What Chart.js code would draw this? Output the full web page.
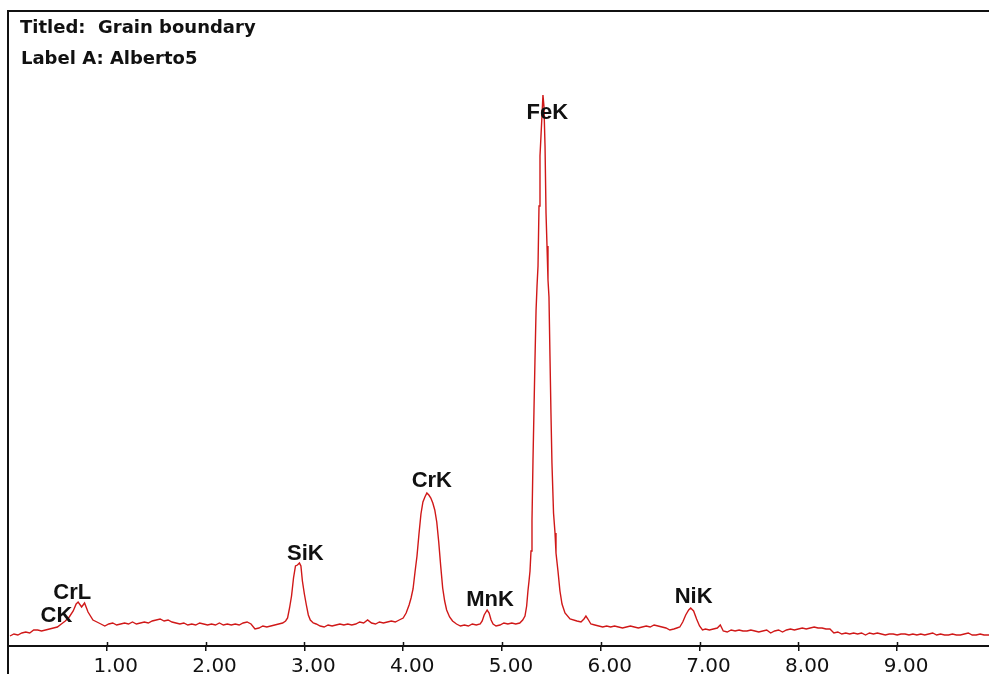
<!DOCTYPE html>
<html>
<head>
<meta charset="utf-8">
<script src="https://cdn.jsdelivr.net/npm/chart.js@4/dist/chart.umd.min.js"></script>
<style>
  html, body { margin: 0; padding: 0; background: #ffffff; }
  #wrap { width: 989px; height: 674px; position: relative; background: #ffffff; }
</style>
</head>
<body>
<div id="wrap"><canvas id="c" width="989" height="674"></canvas></div>
<script>
// ---- Data (energy in keV, counts in arbitrary units) ----
const titleLines = ['Titled:  Grain boundary', 'Label A: Alberto5'];

// low-energy region (C K / Cr L)
const lowE      = [0.02,0.06,0.10,0.14,0.18,0.22,0.26,0.30,0.34,0.38,0.42,0.46,0.50,0.54,0.58,0.62,0.66,0.69,0.71,0.745,0.775,0.81,0.86,0.90,0.94,0.98];
const lowCounts = [10,  12,  11,  13,  14,  13,  16,  16,  15,  16,  17,  18,  19,  22,  25,  29,  35,  42,  44,  39,   43,   34,  26,  24,  22,  20];

// background 1.0 - 2.8 keV
const bg1E      = [1.02,1.06,1.10,1.14,1.18,1.22,1.26,1.30,1.34,1.38,
                   1.42,1.46,1.50,1.54,1.58,1.62,1.66,1.70,1.74,1.78,
                   1.82,1.86,1.90,1.94,1.98,2.02,2.06,2.10,2.14,2.18,
                   2.22,2.26,2.30,2.34,2.38,2.42,2.46,2.50,2.54,2.58,
                   2.62,2.66,2.70,2.74,2.78];
const bg1Counts = [22,23,21,22,23,22,24,22,23,24,
                   23,25,26,27,25,26,24,23,22,23,
                   21,22,21,23,22,21,22,21,23,21,
                   22,21,22,21,23,24,22,17,18,20,
                   19,20,21,22,23];

// Si K peak and background up to 4 keV
const siE       = [2.81,2.83,2.85,2.87,2.89,2.91,2.93,2.95,2.965,2.98,3.00,3.02,3.04,3.06,3.09,3.12,3.16,
                   3.20,3.24,3.28,3.32,3.36,3.40,3.44,3.48,3.52,3.56,3.60,3.64,3.68,3.72,3.76,3.80,3.84,3.88,3.92,3.96];
const siCounts  = [25,  28,  38,  50,  68,  80,  81,  83,  80,   65,  52,  41,  31,  26,  23,  22,  20,
                   19,  21,  20,  21,  22,  21,  22,  21,  22,  24,  23,  26,  23,  22,  24,  23,  24,  25,  24,  26];

// Cr K peak
const crE       = [4.00,4.03,4.06,4.08,4.10,4.12,4.14,4.16,4.18,4.20,4.22,4.24,4.26,4.28,4.30,4.32,4.34,4.36,4.38,4.40,4.42,4.44,4.47,4.50,4.54,4.58,4.62,4.66,4.70,4.74];
const crCounts  = [28,  33,  41,  48,  57,  74,  90,  112, 132, 144, 149, 153, 151, 148, 143, 136, 124, 104, 80,  58,  45,  36,  29,  25,  22,  20,  21,  20,  22,  21];

// Mn K peak
const mnE       = [4.78,4.80,4.82,4.85,4.87,4.89,4.91,4.94,4.98,5.02,5.06,5.10,5.14];
const mnCounts  = [22,  25,  31,  36,  33,  26,  22,  20,  21,  23,  22,  23,  22];

// Fe K peak
const feE       = [5.18,5.21,5.233,5.25,5.263,5.274,5.284,5.294,5.304,5.314,5.324,5.334,5.345,5.355,5.365,5.375,5.385,5.395,5.405,5.415,
                   5.425,5.436,5.446,5.456,5.466,5.476,5.486,5.496,5.506,5.522,5.537,5.547,5.567,5.587,5.608,5.638,5.689,5.759];
const feCounts  = [23,  26,  30,   40,  55,   65,   75,   95,   125,  185,  235,  285,  335,  360,  380,  440,  490,  510,  530,  551,
                   540,  500,  433,  400,  366,  349,  290,  233,  183,  133,  113,  93,   75,   55,   42,   33,   27,   25];

// background 5.8 - 6.8 keV
const bg2E      = [5.80,5.83,5.85,5.87,5.90,5.94,5.98,6.02,6.06,6.10,6.14,6.18,6.22,6.26,6.30,6.34,6.38,6.42,6.46,6.50,6.54,6.58,6.62,6.66,6.70,6.74,6.77];
const bg2Counts = [24,  27,  30,  27,  22,  21,  20,  19,  20,  19,  20,  19,  18,  19,  20,  19,  18,  19,  20,  19,  21,  20,  19,  18,  16,  17,  18];

// Ni K peak
const niE       = [6.80,6.83,6.86,6.89,6.91,6.94,6.97,7.00,7.03,7.06,7.10,7.14,7.18,7.21,7.24,7.28];
const niCounts  = [19,  24,  31,  36,  38,  35,  27,  20,  16,  17,  16,  17,  18,  21,  15,  14];

// high-energy tail
const tailE     = [7.32,7.36,7.40,7.44,7.48,7.52,7.56,7.60,7.64,7.68,
                   7.72,7.76,7.80,7.84,7.88,7.92,7.96,8.00,8.04,8.08,
                   8.12,8.16,8.20,8.24,8.28,8.32,8.36,8.40,8.44,8.48,
                   8.52,8.56,8.60,8.64,8.68,8.72,8.76,8.80,8.84,8.88,
                   8.92,8.96,9.00,9.04,9.08,9.12,9.16,9.20,9.24,9.28,
                   9.32,9.36,9.40,9.44,9.48,9.52,9.56,9.60,9.64,9.68,
                   9.72,9.76,9.80,9.84,9.88,9.92,9.96];
const tailCounts= [16,15,16,15,15,16,15,14,15,16,
                   13,15,16,14,16,17,16,17,18,17,
                   18,19,18,18,17,17,13,14,12,13,
                   12,13,12,13,11,13,12,13,12,11,
                   12,12,11,12,12,11,12,11,12,11,
                   12,13,11,12,11,11,12,11,11,12,
                   13,11,11,12,11,11,11];

// axis ticks
const tickValues = [1,2,3,4,5,6,7,8,9];

// peak labels
const peakNames       = ['CK', 'CrL', 'SiK', 'CrK', 'MnK', 'FeK', 'NiK'];
const peakEnergy      = [0.49, 0.65,  3.01,  4.29,  4.88,  5.46,  6.94];
const peakLabelCounts = [24,   47,    86,    159,   40,    527,   43];

// ---- build the series ----
const energies = [].concat(lowE, bg1E, siE, crE, mnE, feE, bg2E, niE, tailE);
const counts   = [].concat(lowCounts, bg1Counts, siCounts, crCounts, mnCounts, feCounts, bg2Counts, niCounts, tailCounts);
const points = energies.map((e, i) => ({ x: e, y: counts[i] }));

const decor = {
  id: 'decor',
  beforeDraw(chart) {
    const ctx = chart.ctx;
    ctx.save();
    ctx.fillStyle = '#ffffff';
    ctx.fillRect(0, 0, chart.width, chart.height);
    ctx.restore();
  },
  afterDraw(chart) {
    const { ctx } = chart;
    const xs = chart.scales.x, ys = chart.scales.y;
    ctx.save();
    // outer frame (left + top)
    ctx.strokeStyle = '#111111';
    ctx.lineWidth = 2;
    ctx.beginPath();
    ctx.moveTo(8, 674);
    ctx.lineTo(8, 11);
    ctx.lineTo(989, 11);
    ctx.stroke();
    // tick marks crossing upward
    ctx.lineWidth = 1.5;
    tickValues.forEach(v => {
      const px = Math.round(xs.getPixelForValue(v)) + 0.5;
      ctx.beginPath();
      ctx.moveTo(px, ys.bottom - 4);
      ctx.lineTo(px, ys.bottom);
      ctx.stroke();
    });
    // title lines
    ctx.fillStyle = '#111111';
    ctx.textAlign = 'left';
    ctx.textBaseline = 'alphabetic';
    ctx.font = 'bold 18px "DejaVu Sans"';
    ctx.fillText(titleLines[0], 20, 33);
    ctx.fillText(titleLines[1], 21, 64);
    // peak labels
    ctx.font = 'bold 22px "Liberation Sans"';
    ctx.textAlign = 'center';
    peakNames.forEach((n, i) => {
      ctx.fillText(n, xs.getPixelForValue(peakEnergy[i]), ys.getPixelForValue(peakLabelCounts[i]));
    });
    ctx.restore();
  }
};

new Chart(document.getElementById('c'), {
  type: 'line',
  data: {
    datasets: [{
      data: points,
      borderColor: '#d01818',
      borderWidth: 1.4,
      pointRadius: 0,
      tension: 0,
      fill: false
    }]
  },
  options: {
    responsive: false,
    animation: false,
    devicePixelRatio: 1,
    layout: { padding: { left: 8, top: 11, right: 0, bottom: 0 } },
    plugins: { legend: { display: false }, tooltip: { enabled: false }, title: { display: false } },
    scales: {
      x: {
        type: 'linear',
        min: 0,
        max: 9.93,
        afterBuildTicks: s => { s.ticks = tickValues.map(v => ({ value: v })); },
        afterFit: s => { s.height = 28; },
        grid: { display: true, drawOnChartArea: false, drawTicks: true, tickLength: 5, color: '#111111', lineWidth: 1.5 },
        border: { display: true, color: '#111111', width: 2 },
        ticks: {
          padding: 4,
          labelOffset: 9,
          color: '#111111',
          autoSkip: false,
          maxRotation: 0,
          font: { family: 'DejaVu Sans', size: 20 },
          callback: v => Number(v).toFixed(2)
        }
      },
      y: {
        display: false,
        min: 0,
        max: 635
      }
    }
  },
  plugins: [decor]
});
</script>
</body>
</html>
